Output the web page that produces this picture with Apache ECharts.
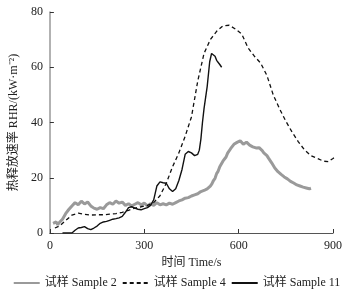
<!DOCTYPE html>
<html>
<head>
<meta charset="utf-8">
<script src="https://cdn.jsdelivr.net/npm/echarts@6/dist/echarts.min.js"></script>
<style>
  html, body { margin: 0; padding: 0; background: #fff; }
  #chart { width: 353px; height: 297px; }
</style>
</head>
<body>
<div id="chart"></div>
<script>
// 曲线数据 [时间 s, RHR kW/m2]
let sample2 = [[10, 3.5], [15, 2.8], [20, 4], [25, 3], [30, 3.8], [40, 5], [50, 7], [60, 8.5], [70, 9.8], [80, 11],
    [90, 10.2], [100, 11.5], [110, 10.5], [120, 11.2], [130, 9.8], [140, 9], [150, 8.6], [160, 9.2], [170, 8.8],
    [180, 10.2], [190, 11], [200, 10.4], [210, 11.6], [220, 10.8], [230, 11.2], [240, 10], [250, 10.6], [260, 9.8],
    [270, 10.4], [280, 11], [290, 10.2], [300, 10.8], [310, 9.8], [320, 10.6], [330, 10], [340, 11], [350, 10.2],
    [360, 10.6], [370, 10.2], [380, 10.8], [390, 10.4], [400, 11], [410, 11.6], [420, 12], [430, 12.6], [440, 12.8],
    [450, 13.4], [460, 13.8], [470, 14.2], [480, 15], [490, 15.4], [500, 16], [505, 15.4], [510, 17], [515, 17.8],
    [520, 19], [525, 19.8], [530, 21.5], [535, 22.4], [540, 24], [545, 24.6], [550, 26], [555, 26.4], [560, 27.5],
    [565, 28.9], [570, 29.5], [575, 30.6], [580, 31], [585, 32.1], [590, 32], [595, 32.8], [600, 32.5], [605, 33.4],
    [610, 33], [615, 32.1], [620, 32.4], [625, 32.9], [630, 32.6], [635, 31.8], [640, 32], [645, 31.2], [650, 31.6],
    [655, 30.8], [660, 31], [665, 30.9], [670, 30.2], [675, 29.8], [680, 29], [685, 28.6], [690, 28], [695, 27.1],
    [700, 26.5], [705, 25.4], [710, 24.8], [715, 23.5], [720, 23], [725, 22.2], [730, 22], [735, 21.2], [740, 21],
    [745, 20.3], [750, 20.2], [755, 19.6], [760, 19.5], [765, 18.7], [770, 18.8], [775, 18.1], [780, 18.2],
    [785, 17.4], [790, 17.6], [795, 17], [800, 17.2], [805, 16.6], [810, 16.9], [815, 16.3], [820, 16.6],
    [825, 16], [830, 16.2]];
let sample4 = [[16, 1.8], [30, 2.5], [50, 4.5], [70, 6.5], [90, 7.2], [110, 6.8], [130, 6.5], [150, 6.6], [170, 6.6],
    [190, 6.8], [210, 7], [230, 7.5], [250, 8.2], [270, 9], [290, 9.5], [310, 10], [330, 11], [350, 13.5], [370, 18],
    [390, 24], [410, 29], [430, 35], [450, 42], [470, 55], [490, 65], [510, 70], [530, 73], [550, 75], [570, 75.2],
    [590, 73.8], [610, 72], [630, 67], [650, 64], [670, 61.5], [690, 57], [710, 50], [730, 45], [750, 40.5],
    [770, 36.5], [790, 33], [810, 30], [830, 28], [850, 27], [870, 26], [885, 25.8], [900, 27], [905, 27.5]];
let sample11 = [[40, 0], [70, 0], [80, 1], [90, 1.8], [100, 2], [110, 2.3], [120, 1.6], [130, 1.2], [140, 1.8],
    [150, 2.5], [160, 3.5], [170, 4], [180, 4.2], [190, 4.6], [200, 5], [210, 5.2], [220, 5.5], [230, 6], [240, 7.5],
    [250, 9.2], [260, 9.5], [270, 9], [280, 8.6], [290, 8.4], [300, 8.8], [310, 9.2], [320, 10], [330, 12], [340, 17],
    [350, 18.5], [360, 18.2], [370, 18], [380, 16], [390, 15], [400, 16], [410, 19], [420, 23], [430, 28.5],
    [440, 29.5], [450, 29], [460, 28], [470, 28.5], [475, 30], [480, 34], [485, 40], [490, 45], [500, 53], [508, 62],
    [514, 65], [520, 65.5], [525, 64], [530, 62.5], [540, 61], [546, 60]];
let seriesNames = ['试样 Sample 2', '试样 Sample 4', '试样 Sample 11'];

let FONT = "'Liberation Serif', 'Noto Sans CJK SC', serif";
let myChart = echarts.init(document.getElementById('chart'));
let option = {
    animation: false,
    textStyle: {fontFamily: FONT, color: '#222'},
    grid: {left: 45, right: 20, top: 12, bottom: 64},
    legend: {
        bottom: 3,
        left: 'center',
        itemWidth: 26,
        itemHeight: 10,
        itemGap: 5,
        itemStyle: {opacity: 0},
        textStyle: {fontFamily: FONT, fontSize: 12, color: '#222'},
        data: seriesNames
    },
    xAxis: {
        type: 'value',
        min: 0, max: 900, interval: 300,
        name: '时间 Time/s',
        nameLocation: 'middle',
        nameGap: 18,
        nameTextStyle: {fontFamily: FONT, fontSize: 12, color: '#222'},
        axisLine: {lineStyle: {color: '#555', width: 1.2}},
        axisTick: {inside: true, length: 4, lineStyle: {color: '#333'}},
        axisLabel: {margin: 7, fontSize: 12, color: '#222', fontFamily: FONT},
        splitLine: {show: false}
    },
    yAxis: {
        type: 'value',
        min: 0, max: 80, interval: 20,
        name: '热释放速率 RHR/(kW·m⁻²)',
        nameLocation: 'middle',
        nameRotate: 90,
        nameGap: 28,
        nameTextStyle: {fontFamily: FONT, fontSize: 12, color: '#222'},
        axisLine: {show: true, lineStyle: {color: '#999', width: 1.5}},
        axisTick: {show: true, inside: true, length: 4, lineStyle: {color: '#333'}},
        axisLabel: {margin: 7, fontSize: 12, color: '#222', fontFamily: FONT},
        splitLine: {show: false}
    },
    series: [
        {
            name: seriesNames[0], type: 'line', data: sample2, symbol: 'none',
            lineStyle: {color: '#9a9a9a', width: 3}, itemStyle: {color: '#9a9a9a'}, z: 2
        },
        {
            name: seriesNames[1], type: 'line', data: sample4, symbol: 'none',
            lineStyle: {color: '#111', width: 1.3, type: [4, 3]}, itemStyle: {color: '#111'}, z: 3
        },
        {
            name: seriesNames[2], type: 'line', data: sample11, symbol: 'none',
            lineStyle: {color: '#111', width: 1.4}, itemStyle: {color: '#111'}, z: 4
        }
    ]
};
myChart.setOption(option);
</script>
</body>
</html>
